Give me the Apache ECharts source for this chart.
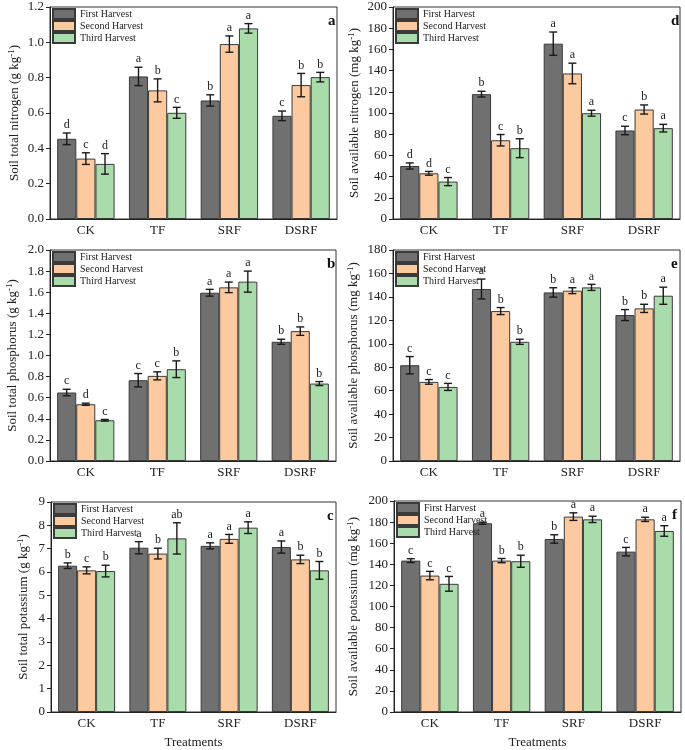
<!DOCTYPE html>
<html>
<head>
<meta charset="utf-8">
<script src="https://cdn.jsdelivr.net/npm/echarts@6/dist/echarts.min.js"></script>
<style>
html,body{margin:0;padding:0;background:#fff;}
#main{width:685px;height:750px;}
</style>
</head>
<body>
<div id="main"></div>
<script>
// ---------- data ----------
const categories = ['CK', 'TF', 'SRF', 'DSRF'];
const harvestNames = ['First Harvest', 'Second Harvest', 'Third Harvest'];

// Panel a: Soil total nitrogen (g kg-1)
const tnFirst = [0.454, 0.807, 0.671, 0.584];
const tnSecond = [0.342, 0.728, 0.990, 0.758];
const tnThird = [0.312, 0.601, 1.079, 0.803];
const tnErrFirst = [0.033, 0.052, 0.032, 0.027];
const tnErrSecond = [0.033, 0.065, 0.046, 0.066];
const tnErrThird = [0.058, 0.031, 0.027, 0.027];
const tnLetFirst = ['d', 'a', 'b', 'c'];
const tnLetSecond = ['c', 'b', 'a', 'b'];
const tnLetThird = ['d', 'c', 'a', 'b'];

// Panel d: Soil available nitrogen (mg kg-1)
const anFirst = [50.0, 117.8, 165.4, 83.5];
const anSecond = [43.1, 74.3, 137.3, 103.3];
const anThird = [35.3, 66.8, 99.8, 85.7];
const anErrFirst = [2.9, 2.7, 11.0, 4.0];
const anErrSecond = [1.8, 5.4, 9.7, 4.3];
const anErrThird = [3.8, 8.9, 2.8, 3.6];
const anLetFirst = ['d', 'b', 'a', 'c'];
const anLetSecond = ['d', 'c', 'a', 'b'];
const anLetThird = ['c', 'b', 'a', 'a'];

// Panel b: Soil total phosphorus (g kg-1)
const tpFirst = [0.649, 0.766, 1.595, 1.130];
const tpSecond = [0.538, 0.807, 1.646, 1.231];
const tpThird = [0.386, 0.870, 1.700, 0.734];
const tpErrFirst = [0.031, 0.063, 0.032, 0.024];
const tpErrSecond = [0.010, 0.038, 0.050, 0.040];
const tpErrThird = [0.008, 0.079, 0.100, 0.019];
const tpLetFirst = ['c', 'c', 'a', 'b'];
const tpLetSecond = ['d', 'c', 'a', 'b'];
const tpLetThird = ['c', 'b', 'a', 'b'];

// Panel e: Soil available phosphorus (mg kg-1)
const apFirst = [81.7, 146.7, 143.8, 124.5];
const apSecond = [67.5, 127.9, 145.3, 130.2];
const apThird = [63.2, 101.7, 148.1, 141.0];
const apErrFirst = [7.4, 8.5, 4.0, 4.7];
const apErrSecond = [2.0, 3.0, 2.5, 3.5];
const apErrThird = [3.0, 2.2, 2.6, 7.3];
const apLetFirst = ['c', 'a', 'b', 'b'];
const apLetSecond = ['c', 'b', 'a', 'b'];
const apLetThird = ['c', 'b', 'a', 'a'];

// Panel c: Soil total potassium (g kg-1)
const tkFirst = [6.27, 7.04, 7.12, 7.07];
const tkSecond = [6.07, 6.79, 7.42, 6.54];
const tkThird = [6.04, 7.44, 7.90, 6.07];
const tkErrFirst = [0.12, 0.26, 0.13, 0.26];
const tkErrSecond = [0.15, 0.23, 0.19, 0.18];
const tkErrThird = [0.25, 0.67, 0.25, 0.38];
const tkLetFirst = ['b', 'a', 'a', 'a'];
const tkLetSecond = ['c', 'b', 'a', 'b'];
const tkLetThird = ['b', 'ab', 'a', 'b'];

// Panel f: Soil available potassium (mg kg-1)
const akFirst = [143.5, 178.9, 164.0, 152.0];
const akSecond = [129.3, 143.5, 185.2, 182.6];
const akThird = [121.5, 142.9, 182.6, 171.6];
const akErrFirst = [1.8, 1.0, 4.0, 4.0];
const akErrSecond = [4.0, 2.0, 3.6, 2.0];
const akErrThird = [7.0, 5.7, 3.0, 5.0];
const akLetFirst = ['c', 'a', 'b', 'c'];
const akLetSecond = ['c', 'b', 'a', 'a'];
const akLetThird = ['c', 'b', 'a', 'a'];

// axis settings (tick labels from min/max/interval)
const yMax = { a: 1.2, d: 200, b: 2.0, e: 180, c: 9, f: 200 };
const yInterval = { a: 0.2, d: 20, b: 0.2, e: 20, c: 1, f: 20 };
const yDecimals = { a: 1, d: 0, b: 1, e: 0, c: 0, f: 0 };

// ---------- layout & style ----------
const FONT = 'Liberation Serif';
const colors = ['#707070', '#fdcaa0', '#a9dcaa'];
const panels = [
  { key: 'a', name: ['Soil total nitrogen (g kg', ')'], means: [tnFirst, tnSecond, tnThird], errs: [tnErrFirst, tnErrSecond, tnErrThird], lets: [tnLetFirst, tnLetSecond, tnLetThird],
    grid: { left: 50, top: 7, width: 287, height: 212 }, nameGap: 28, xname: false },
  { key: 'd', name: ['Soil available nitrogen (mg kg', ')'], means: [anFirst, anSecond, anThird], errs: [anErrFirst, anErrSecond, anErrThird], lets: [anLetFirst, anLetSecond, anLetThird],
    grid: { left: 393, top: 7, width: 287, height: 212 }, nameGap: 31, xname: false },
  { key: 'b', name: ['Soil total phosphorus (g kg', ')'], means: [tpFirst, tpSecond, tpThird], errs: [tpErrFirst, tpErrSecond, tpErrThird], lets: [tpLetFirst, tpLetSecond, tpLetThird],
    grid: { left: 50, top: 250, width: 286, height: 211 }, nameGap: 30, xname: false },
  { key: 'e', name: ['Soil available phosphorus (mg kg', ')'], means: [apFirst, apSecond, apThird], errs: [apErrFirst, apErrSecond, apErrThird], lets: [apLetFirst, apLetSecond, apLetThird],
    grid: { left: 393, top: 250, width: 287, height: 211 }, nameGap: 32, xname: false },
  { key: 'c', name: ['Soil total potassium (g kg', ')'], means: [tkFirst, tkSecond, tkThird], errs: [tkErrFirst, tkErrSecond, tkErrThird], lets: [tkLetFirst, tkLetSecond, tkLetThird],
    grid: { left: 51, top: 502, width: 285, height: 210 }, nameGap: 20, xname: true },
  { key: 'f', name: ['Soil available potassium (mg kg', ')'], means: [akFirst, akSecond, akThird], errs: [akErrFirst, akErrSecond, akErrThird], lets: [akLetFirst, akLetSecond, akLetThird],
    grid: { left: 394, top: 501, width: 287, height: 211 }, nameGap: 33, xname: true }
];

const grids = [], xAxes = [], yAxes = [], series = [], legends = [], titles = [];

panels.forEach((p, gi) => {
  grids.push(Object.assign({ show: true, borderColor: '#333', borderWidth: 1, backgroundColor: 'transparent' }, p.grid));
  xAxes.push({
    type: 'category', gridIndex: gi, data: categories,
    axisLine: { lineStyle: { color: '#222', width: 1 } },
    axisTick: { alignWithLabel: true, length: 4, lineStyle: { color: '#222' } },
    axisLabel: { fontFamily: FONT, fontSize: 13, color: '#222', margin: 5 },
    name: p.xname ? 'Treatments' : '', nameLocation: 'middle', nameGap: 24,
    nameTextStyle: { fontFamily: FONT, fontSize: 13, color: '#222' }
  });
  const dec = yDecimals[p.key];
  yAxes.push({
    type: 'value', gridIndex: gi, min: 0, max: yMax[p.key], interval: yInterval[p.key],
    axisLine: { show: true, lineStyle: { color: '#222', width: 1 } },
    axisTick: { show: true, length: 4, lineStyle: { color: '#222' } },
    splitLine: { show: false },
    axisLabel: { fontFamily: FONT, fontSize: 13, color: '#222', margin: 6, formatter: v => v.toFixed(dec) },
    name: '{n|' + p.name[0] + '}{s|-1}{n|' + p.name[1] + '}',
    nameLocation: 'middle', nameGap: p.nameGap, nameRotate: 90,
    nameTextStyle: {
      rich: {
        n: { fontFamily: FONT, fontSize: 13, color: '#222' },
        s: { fontFamily: FONT, fontSize: 9, color: '#222', verticalAlign: 'top', padding: [0, 0, 6, 0] }
      }
    }
  });
  legends.push({
    left: p.grid.left + 2, top: p.grid.top + 1, orient: 'vertical', padding: 0,
    data: harvestNames, icon: 'rect', itemWidth: 22, itemHeight: 10, itemGap: 0,
    selectedMode: false,
    textStyle: { fontFamily: FONT, fontSize: 10, color: '#222', lineHeight: 12 }
  });
  titles.push({
    text: p.key, left: p.grid.left + p.grid.width - 14, top: p.grid.top + 2,
    textStyle: { fontFamily: FONT, fontSize: 15, fontWeight: 'bold', color: '#111' }
  });
  for (let h = 0; h < 3; h++) {
    series.push({
      type: 'bar', name: harvestNames[h], xAxisIndex: gi, yAxisIndex: gi,
      data: p.means[h], barGap: '0%', barCategoryGap: '20%',
      itemStyle: { color: colors[h], borderColor: '#3a3a3a', borderWidth: 1 },
      emphasis: { disabled: true }
    });
  }
  for (let h = 0; h < 3; h++) {
    const m = p.means[h], e = p.errs[h], L = p.lets[h];
    series.push({
      type: 'custom', xAxisIndex: gi, yAxisIndex: gi, z: 5,
      data: m.map((v, i) => [i, v, e[i]]),
      renderItem: (params, api) => {
        const ci = api.value(0), v = api.value(1), er = api.value(2);
        const band = api.size([1, 0])[0];
        const bw = band * 0.8 / 3;
        const cx = api.coord([ci, 0])[0] + (h - 1) * bw;
        const yT = api.coord([ci, v + er])[1];
        const yB = api.coord([ci, v - er])[1];
        const cap = 4;
        const ls = { stroke: '#1a1a1a', lineWidth: 1.4 };
        return {
          type: 'group',
          children: [
            { type: 'line', shape: { x1: cx, y1: yT, x2: cx, y2: yB }, style: ls },
            { type: 'line', shape: { x1: cx - cap, y1: yT, x2: cx + cap, y2: yT }, style: ls },
            { type: 'line', shape: { x1: cx - cap, y1: yB, x2: cx + cap, y2: yB }, style: ls },
            { type: 'text', style: { text: L[params.dataIndex], x: cx, y: yT - 2, textAlign: 'center', textVerticalAlign: 'bottom',
              font: '12px "' + FONT + '"', fill: '#222' } }
          ]
        };
      }
    });
  }
});

const chart = echarts.init(document.getElementById('main'), null, { renderer: 'canvas' });
chart.setOption({
  animation: false,
  backgroundColor: '#fff',
  title: titles,
  legend: legends,
  grid: grids,
  xAxis: xAxes,
  yAxis: yAxes,
  series: series
});
</script>
</body>
</html>
